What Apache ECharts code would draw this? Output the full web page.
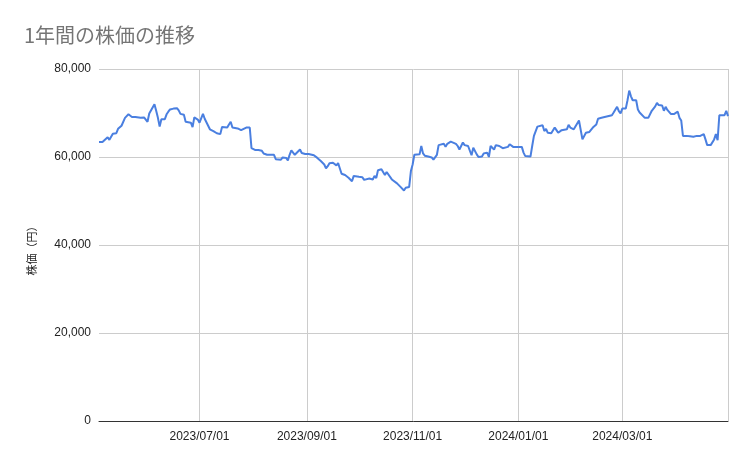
<!DOCTYPE html>
<html>
<head>
<meta charset="utf-8">
<script src="https://cdn.jsdelivr.net/npm/echarts@6/dist/echarts.min.js"></script>
<style>html,body{margin:0;padding:0;background:#fff;}#c{width:753px;height:466px;}</style>
</head>
<body>
<div id="c"></div>
<script>
const titleText = '1年間の株価の推移';
const yAxisName = '株価（円）';
const xMin = '2023-05-04';
const xMax = '2024-05-01';
const xTickDates = ['2023-07-01','2023-09-01','2023-11-01','2024-01-01','2024-03-01'];
const xGridDates = ['2023-07-01','2023-09-01','2023-11-01','2024-01-01','2024-03-01','2024-05-01'];
const yTicks = [0, 20000, 40000, 60000, 80000];

const dates = [
'2023-05-04','2023-05-06','2023-05-07','2023-05-09','2023-05-10','2023-05-11','2023-05-12','2023-05-14','2023-05-15','2023-05-17',
'2023-05-18','2023-05-19','2023-05-20','2023-05-21','2023-05-23','2023-05-24','2023-05-25','2023-05-28','2023-05-30','2023-05-31',
'2023-06-01','2023-06-02','2023-06-03','2023-06-05','2023-06-06','2023-06-07','2023-06-08','2023-06-09','2023-06-11','2023-06-12',
'2023-06-13','2023-06-14','2023-06-16','2023-06-17','2023-06-18','2023-06-19','2023-06-20','2023-06-22','2023-06-23','2023-06-24',
'2023-06-26','2023-06-27','2023-06-28','2023-06-30','2023-07-01','2023-07-02','2023-07-03','2023-07-04','2023-07-05','2023-07-07',
'2023-07-08','2023-07-09','2023-07-11','2023-07-12','2023-07-13','2023-07-14','2023-07-15','2023-07-17','2023-07-18','2023-07-19',
'2023-07-20','2023-07-23','2023-07-24','2023-07-25','2023-07-26','2023-07-28','2023-07-29','2023-07-30','2023-07-31','2023-08-01',
'2023-08-02','2023-08-04','2023-08-06','2023-08-07','2023-08-09','2023-08-11','2023-08-13','2023-08-14','2023-08-15','2023-08-17',
'2023-08-18','2023-08-20','2023-08-21','2023-08-22','2023-08-23','2023-08-25','2023-08-26','2023-08-28','2023-08-29','2023-08-30',
'2023-08-31','2023-09-02','2023-09-03','2023-09-05','2023-09-06','2023-09-07','2023-09-09','2023-09-10','2023-09-11','2023-09-12',
'2023-09-13','2023-09-14','2023-09-16','2023-09-18','2023-09-19','2023-09-20','2023-09-21','2023-09-23','2023-09-24','2023-09-25',
'2023-09-27','2023-09-28','2023-09-29','2023-10-01','2023-10-03','2023-10-04','2023-10-05','2023-10-07','2023-10-09','2023-10-10',
'2023-10-11','2023-10-12','2023-10-14','2023-10-16','2023-10-17','2023-10-18','2023-10-20','2023-10-21','2023-10-23','2023-10-24',
'2023-10-25','2023-10-27','2023-10-28','2023-10-29','2023-10-30','2023-10-31','2023-11-01','2023-11-02','2023-11-03','2023-11-05',
'2023-11-06','2023-11-07','2023-11-08','2023-11-10','2023-11-12','2023-11-13','2023-11-15','2023-11-16','2023-11-17','2023-11-19',
'2023-11-20','2023-11-21','2023-11-23','2023-11-24','2023-11-26','2023-11-27','2023-11-28','2023-11-30','2023-12-01','2023-12-02',
'2023-12-03','2023-12-04','2023-12-05','2023-12-06','2023-12-08','2023-12-09','2023-12-11','2023-12-12','2023-12-13','2023-12-14',
'2023-12-15','2023-12-16','2023-12-17','2023-12-18','2023-12-19','2023-12-21','2023-12-23','2023-12-24','2023-12-26','2023-12-27',
'2023-12-29','2023-12-31','2024-01-01','2024-01-03','2024-01-04','2024-01-05','2024-01-06','2024-01-08','2024-01-09','2024-01-10',
'2024-01-12','2024-01-13','2024-01-15','2024-01-16','2024-01-17','2024-01-18','2024-01-19','2024-01-20','2024-01-22','2024-01-23',
'2024-01-24','2024-01-26','2024-01-27','2024-01-29','2024-01-30','2024-01-31','2024-02-02','2024-02-03','2024-02-05','2024-02-07',
'2024-02-09','2024-02-11','2024-02-13','2024-02-14','2024-02-15','2024-02-16','2024-02-18','2024-02-19','2024-02-21','2024-02-22',
'2024-02-24','2024-02-25','2024-02-27','2024-02-28','2024-02-29','2024-03-01','2024-03-03','2024-03-04','2024-03-05','2024-03-06',
'2024-03-07','2024-03-08','2024-03-09','2024-03-10','2024-03-11','2024-03-12','2024-03-14','2024-03-15','2024-03-16','2024-03-18',
'2024-03-19','2024-03-20','2024-03-21','2024-03-22','2024-03-24','2024-03-25','2024-03-26','2024-03-27','2024-03-29','2024-03-30',
'2024-03-31','2024-04-02','2024-04-03','2024-04-04','2024-04-05','2024-04-06','2024-04-07','2024-04-08','2024-04-09','2024-04-10',
'2024-04-11','2024-04-13','2024-04-15','2024-04-16','2024-04-17','2024-04-18','2024-04-19','2024-04-21','2024-04-22','2024-04-23',
'2024-04-24','2024-04-25','2024-04-26','2024-04-27','2024-04-29','2024-04-30','2024-05-01'
];

const prices = [
63400,63400,63400,64500,63900,63700,65300,65400,66400,67100,
67200,68900,69200,69700,69100,68700,69100,68900,69000,68500,
68000,69900,70100,72000,70500,68900,66900,68600,68600,69700,
70300,70800,71000,71100,71100,70600,69800,69600,68000,67900,
67800,66800,69000,68500,67800,68000,69800,68700,68400,66300,
65900,65900,65400,65700,65200,66800,66800,66700,67400,68000,
66700,66500,66700,66100,66300,66700,66800,66700,62000,61700,
61600,61600,61400,60800,60500,60500,60500,59500,59700,59400,
59900,59800,59200,60500,61500,60500,60800,61700,60900,61100,
60700,60700,60500,60400,60700,59800,59100,58900,58300,57400,
57900,58600,58700,58100,58600,57400,56200,55900,55700,55300,
54500,55700,55500,55500,55400,54800,55200,55100,54900,55700,
55200,57000,57200,55900,56600,56300,54900,54500,54000,54000,
53200,52400,53000,52800,53200,56800,58300,60500,60600,60600,
62500,60800,60300,60100,59900,59400,60500,62700,63000,63000,
62300,63000,63500,63300,63000,62500,61700,63300,62700,62900,
62500,62300,60400,62100,60600,60000,60100,60800,61000,61000,
60000,62500,62500,61700,62700,62500,62000,62000,62300,62900,
62300,62300,62300,62300,61000,60200,60100,60100,62500,64800,
66900,67100,67200,65900,66400,65500,65500,65400,66700,66100,
65500,66100,66300,66300,67300,66700,66300,66200,68300,64000,
65500,65700,66700,66900,67400,68700,68900,68800,69200,69500,
69500,70100,71400,70400,69900,71000,71000,72900,75100,73800,
72900,72900,72900,70800,70100,69900,68900,68900,68900,70500,
70800,71500,72300,71800,71700,70500,71400,70700,69800,69500,
69800,70300,68900,68300,64800,65000,64800,65200,64700,64800,
64600,64800,64800,64600,65200,64000,62700,62700,63000,64000,
65200,63800,69500,69500,69500,70500,69300
];

const ts = s => { const p = s.split('-').map(Number); return new Date(p[0], p[1]-1, p[2]).getTime(); };
const seriesData = dates.map((d, i) => [ts(d), prices[i]]);
const pad = n => (n < 10 ? '0' : '') + n;

const chart = echarts.init(document.getElementById('c'), null, {renderer: 'canvas'});
chart.setOption({
  animation: false,
  backgroundColor: '#ffffff',
  title: {
    text: titleText,
    left: 24, top: 25, padding: 0,
    textStyle: {fontFamily: '"Noto Sans CJK JP", sans-serif', fontSize: 20, fontWeight: 'normal', color: '#757575'}
  },
  grid: {left: 99, right: 25, top: 69, bottom: 45, containLabel: false},
  xAxis: {
    type: 'value',
    min: ts(xMin), max: ts(xMax),
    axisLine: {show: true, onZero: false, lineStyle: {color: '#333333', width: 1}},
    axisTick: {show: false, customValues: xGridDates.map(ts)},
    splitLine: {show: true, lineStyle: {color: '#cccccc', width: 1}},
    axisLabel: {
      customValues: xTickDates.map(ts),
      fontFamily: '"Liberation Sans", Arial, sans-serif', fontSize: 12, color: '#222222', margin: 10,
      formatter: v => { const d = new Date(v); return d.getFullYear() + '/' + pad(d.getMonth()+1) + '/' + pad(d.getDate()); }
    }
  },
  yAxis: {
    type: 'value',
    min: yTicks[0], max: yTicks[yTicks.length-1], interval: yTicks[1]-yTicks[0],
    name: yAxisName, nameLocation: 'middle', nameRotate: 90, nameGap: 62,
    nameTextStyle: {fontFamily: '"Noto Sans CJK JP", sans-serif', fontSize: 11, color: '#222222', padding: [0, 6, 0, 0]},
    axisLine: {show: false}, axisTick: {show: false},
    splitLine: {show: true, lineStyle: {color: '#cccccc', width: 1}},
    axisLabel: {
      fontFamily: '"Liberation Sans", Arial, sans-serif', fontSize: 12, color: '#222222', margin: 8,
      formatter: v => v.toLocaleString('en-US')
    }
  },
  series: [{
    type: 'line',
    data: seriesData,
    showSymbol: false,
    symbol: 'none',
    lineStyle: {color: '#4a7fe0', width: 2},
    itemStyle: {color: '#4a7fe0'}
  }]
});
</script>
</body>
</html>
